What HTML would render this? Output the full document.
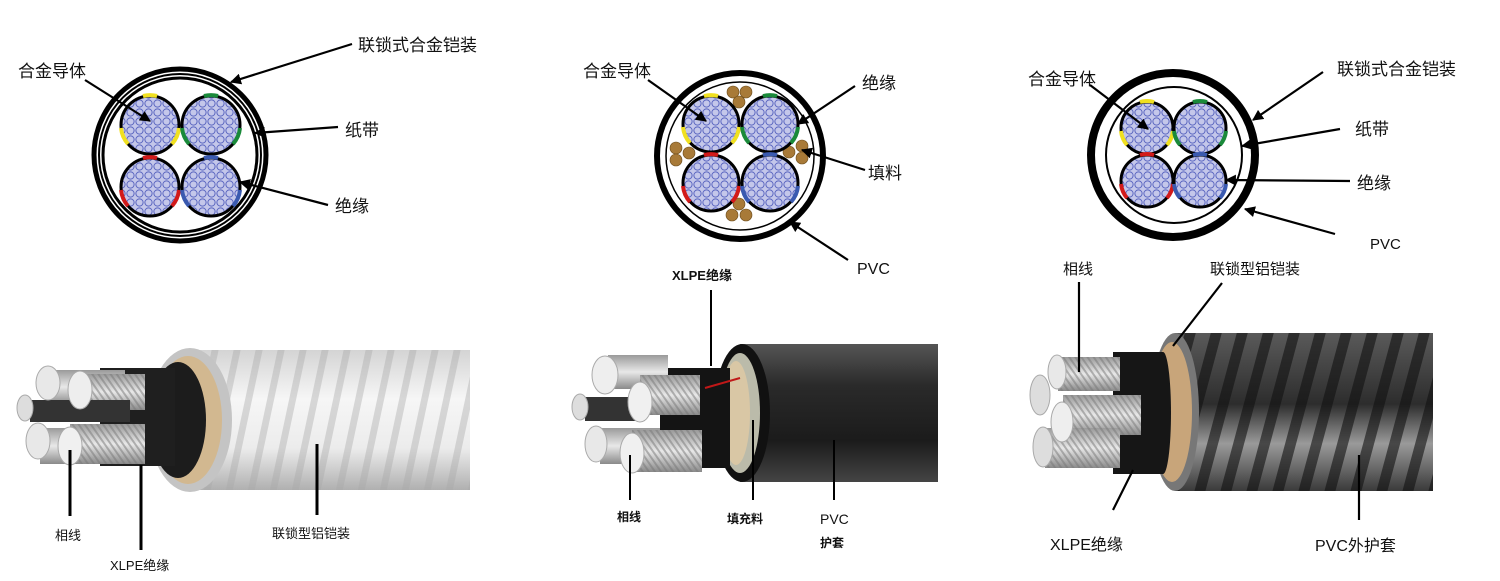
<!DOCTYPE html>
<html><head><meta charset="utf-8"><style>
html,body{margin:0;padding:0;background:#fff;width:1500px;height:581px;overflow:hidden}
svg{display:block}
text{font-family:"Liberation Sans","Noto Sans CJK SC",sans-serif;fill:#111}
</style></head><body>
<svg width="1500" height="581" viewBox="0 0 1500 581" xmlns="http://www.w3.org/2000/svg">
<defs>
<pattern id="mesh" width="9" height="9" patternUnits="userSpaceOnUse">
<rect width="9" height="9" fill="#c4c7ea"/>
<circle cx="4.5" cy="4.5" r="3.6" fill="none" stroke="#5a66c0" stroke-width="1"/>
</pattern>
<marker id="ah" viewBox="0 0 10 10" refX="9" refY="5" markerWidth="5" markerHeight="5" orient="auto"><path d="M0,0L10,5L0,10z" fill="#000"/></marker>
<linearGradient id="alu" x1="0" y1="0" x2="0" y2="1">
<stop offset="0" stop-color="#d4d4d4"/><stop offset="0.35" stop-color="#f6f6f6"/><stop offset="0.7" stop-color="#ececec"/><stop offset="1" stop-color="#b0b0b0"/></linearGradient>
<linearGradient id="blk" x1="0" y1="0" x2="0" y2="1">
<stop offset="0" stop-color="#555"/><stop offset="0.3" stop-color="#2a2a2a"/><stop offset="0.7" stop-color="#1b1b1b"/><stop offset="1" stop-color="#444"/></linearGradient>
<linearGradient id="drk" x1="0" y1="0" x2="0" y2="1">
<stop offset="0" stop-color="#5a5a5a"/><stop offset="0.45" stop-color="#2d2d2d"/><stop offset="0.7" stop-color="#9a9a9a"/><stop offset="1" stop-color="#3a3a3a"/></linearGradient>
<linearGradient id="wire" x1="0" y1="0" x2="0" y2="1">
<stop offset="0" stop-color="#9a9a9a"/><stop offset="0.5" stop-color="#e8e8e8"/><stop offset="1" stop-color="#8a8a8a"/></linearGradient>
<pattern id="strand" width="5" height="5" patternUnits="userSpaceOnUse" patternTransform="rotate(-35)">
<rect width="2" height="5" fill="#777" opacity="0.5"/></pattern>
<pattern id="ribs" width="22" height="10" patternUnits="userSpaceOnUse" patternTransform="skewX(-12)">
<rect x="0" width="7" height="10" fill="#a8a8a8" opacity="0.4"/></pattern>
<pattern id="ribs3" width="26" height="10" patternUnits="userSpaceOnUse" patternTransform="skewX(-15)">
<rect x="0" width="11" height="10" fill="#111" opacity="0.6"/></pattern>
</defs>

<!-- ===== Diagram 1 ===== -->
<circle cx="180" cy="155" r="86" fill="none" stroke="#000" stroke-width="5"/>
<circle cx="180" cy="155" r="81" fill="none" stroke="#000" stroke-width="2"/>
<circle cx="180" cy="155" r="77" fill="none" stroke="#000" stroke-width="3"/>
<g stroke="#000" stroke-width="3">
<circle cx="150" cy="125" r="29" fill="url(#mesh)"/>
<circle cx="211" cy="125" r="29" fill="url(#mesh)"/>
<circle cx="150" cy="187" r="29" fill="url(#mesh)"/>
<circle cx="211" cy="187" r="29" fill="url(#mesh)"/>
</g>
<g fill="none" stroke-width="4">
<path d="M143,96 A29,29 0 0 1 157,96" stroke="#f0e020"/><path d="M121,128 A29,29 0 0 0 128,144 M172,144 A29,29 0 0 0 179,128" stroke="#f0e020"/>
<path d="M204,96 A29,29 0 0 1 218,96" stroke="#1a8a3a"/><path d="M182,128 A29,29 0 0 0 189,144 M233,144 A29,29 0 0 0 240,128" stroke="#1a8a3a"/>
<path d="M143,158 A29,29 0 0 1 157,158" stroke="#d21a1a"/><path d="M121,190 A29,29 0 0 0 128,206 M172,206 A29,29 0 0 0 179,190" stroke="#d21a1a"/>
<path d="M204,158 A29,29 0 0 1 218,158" stroke="#3a5ab0"/><path d="M182,190 A29,29 0 0 0 189,206 M233,206 A29,29 0 0 0 240,190" stroke="#3a5ab0"/>
</g>
<g stroke="#000" stroke-width="2.2" marker-end="url(#ah)" fill="none">
<line x1="85" y1="80" x2="150" y2="121"/>
<line x1="352" y1="44" x2="231" y2="82"/>
<line x1="338" y1="127" x2="255" y2="133"/>
<line x1="328" y1="205" x2="240" y2="182"/>
</g>
<text x="18" y="77" font-size="17">合金导体</text>
<text x="358" y="51" font-size="17">联锁式合金铠装</text>
<text x="345" y="136" font-size="17">纸带</text>
<text x="335" y="212" font-size="17">绝缘</text>

<!-- ===== Diagram 2 ===== -->
<circle cx="740" cy="156" r="83" fill="none" stroke="#000" stroke-width="6"/>
<circle cx="740" cy="156" r="74" fill="none" stroke="#000" stroke-width="1.5"/>
<g fill="#a87a38" stroke="#6a4a1a" stroke-width="0.6">
<circle cx="733" cy="92" r="6"/><circle cx="746" cy="92" r="6"/><circle cx="739" cy="102" r="6"/>
<circle cx="676" cy="148" r="6"/><circle cx="689" cy="153" r="6"/><circle cx="676" cy="160" r="6"/>
<circle cx="789" cy="152" r="6"/><circle cx="802" cy="146" r="6"/><circle cx="802" cy="158" r="6"/>
<circle cx="739" cy="204" r="6"/><circle cx="732" cy="215" r="6"/><circle cx="746" cy="215" r="6"/>
</g>
<g stroke="#000" stroke-width="3">
<circle cx="711" cy="124" r="28" fill="url(#mesh)"/>
<circle cx="770" cy="124" r="28" fill="url(#mesh)"/>
<circle cx="711" cy="183" r="28" fill="url(#mesh)"/>
<circle cx="770" cy="183" r="28" fill="url(#mesh)"/>
</g>
<g fill="none" stroke-width="4">
<path d="M704,96 A28,28 0 0 1 718,96" stroke="#f0e020"/><path d="M683,127 A28,28 0 0 0 690,143 M732,143 A28,28 0 0 0 739,127" stroke="#f0e020"/>
<path d="M763,96 A28,28 0 0 1 777,96" stroke="#1a8a3a"/><path d="M742,127 A28,28 0 0 0 749,143 M791,143 A28,28 0 0 0 798,127" stroke="#1a8a3a"/>
<path d="M704,155 A28,28 0 0 1 718,155" stroke="#d21a1a"/><path d="M683,186 A28,28 0 0 0 690,202 M732,202 A28,28 0 0 0 739,186" stroke="#d21a1a"/>
<path d="M763,155 A28,28 0 0 1 777,155" stroke="#3a5ab0"/><path d="M742,186 A28,28 0 0 0 749,202 M791,202 A28,28 0 0 0 798,186" stroke="#3a5ab0"/>
</g>
<g stroke="#000" stroke-width="2.2" marker-end="url(#ah)" fill="none">
<line x1="648" y1="80" x2="706" y2="121"/>
<line x1="855" y1="86" x2="798" y2="124"/>
<line x1="865" y1="170" x2="802" y2="150"/>
<line x1="848" y1="260" x2="790" y2="222"/>
</g>
<text x="583" y="77" font-size="17">合金导体</text>
<text x="862" y="89" font-size="17">绝缘</text>
<text x="868" y="179" font-size="17">填料</text>
<text x="857" y="274" font-size="16">PVC</text>
<text x="672" y="280" font-size="13" font-weight="bold">XLPE绝缘</text>

<!-- ===== Diagram 3 ===== -->
<circle cx="1173" cy="155" r="82" fill="none" stroke="#000" stroke-width="8"/>
<circle cx="1174" cy="155" r="68" fill="none" stroke="#000" stroke-width="2"/>
<g stroke="#000" stroke-width="3">
<circle cx="1147" cy="128" r="26" fill="url(#mesh)"/>
<circle cx="1200" cy="128" r="26" fill="url(#mesh)"/>
<circle cx="1147" cy="181" r="26" fill="url(#mesh)"/>
<circle cx="1200" cy="181" r="26" fill="url(#mesh)"/>
</g>
<g fill="none" stroke-width="4">
<path d="M1140,102 A26,26 0 0 1 1154,102" stroke="#f0e020"/><path d="M1121,131 A26,26 0 0 0 1127,145 M1167,145 A26,26 0 0 0 1173,131" stroke="#f0e020"/>
<path d="M1193,102 A26,26 0 0 1 1207,102" stroke="#1a8a3a"/><path d="M1174,131 A26,26 0 0 0 1180,145 M1220,145 A26,26 0 0 0 1226,131" stroke="#1a8a3a"/>
<path d="M1140,155 A26,26 0 0 1 1154,155" stroke="#d21a1a"/><path d="M1121,184 A26,26 0 0 0 1127,198 M1167,198 A26,26 0 0 0 1173,184" stroke="#d21a1a"/>
<path d="M1193,155 A26,26 0 0 1 1207,155" stroke="#3a5ab0"/><path d="M1174,184 A26,26 0 0 0 1180,198 M1220,198 A26,26 0 0 0 1226,184" stroke="#3a5ab0"/>
</g>
<g stroke="#000" stroke-width="2.2" marker-end="url(#ah)" fill="none">
<line x1="1090" y1="85" x2="1148" y2="129"/>
<line x1="1323" y1="72" x2="1253" y2="120"/>
<line x1="1340" y1="129" x2="1242" y2="146"/>
<line x1="1350" y1="181" x2="1226" y2="180"/>
<line x1="1335" y1="234" x2="1245" y2="209"/>
</g>
<text x="1028" y="85" font-size="17">合金导体</text>
<text x="1337" y="75" font-size="17">联锁式合金铠装</text>
<text x="1355" y="135" font-size="17">纸带</text>
<text x="1357" y="189" font-size="17">绝缘</text>
<text x="1370" y="249" font-size="15">PVC</text>
<text x="1063" y="274" font-size="15">相线</text>
<text x="1210" y="274" font-size="15">联锁型铝铠装</text>

<!-- ===== Cable photo 1 ===== -->
<rect x="190" y="350" width="280" height="140" fill="url(#alu)"/>
<rect x="190" y="350" width="280" height="140" fill="url(#ribs)"/>
<ellipse cx="190" cy="420" rx="42" ry="72" fill="#c4c4c4"/>
<ellipse cx="188" cy="420" rx="34" ry="64" fill="#d2b890"/>
<ellipse cx="178" cy="420" rx="28" ry="58" fill="#1c1c1c"/>
<rect x="100" y="368" width="75" height="98" fill="#1f1f1f"/>
<g>
<rect x="45" y="370" width="80" height="34" fill="url(#wire)"/>
<rect x="80" y="374" width="65" height="36" fill="url(#wire)"/>
<rect x="80" y="374" width="65" height="36" fill="url(#strand)"/>
<rect x="30" y="400" width="100" height="22" fill="#333"/>
<rect x="40" y="428" width="80" height="36" fill="url(#wire)"/>
<rect x="70" y="424" width="75" height="40" fill="url(#wire)"/>
<rect x="70" y="424" width="75" height="40" fill="url(#strand)"/>
<ellipse cx="48" cy="383" rx="12" ry="17" fill="#e8e8e8" stroke="#aaa"/>
<ellipse cx="80" cy="390" rx="12" ry="19" fill="#eee" stroke="#aaa"/>
<ellipse cx="25" cy="408" rx="8" ry="13" fill="#ddd" stroke="#aaa"/>
<ellipse cx="38" cy="441" rx="12" ry="18" fill="#e8e8e8" stroke="#aaa"/>
<ellipse cx="70" cy="446" rx="12" ry="19" fill="#f0f0f0" stroke="#aaa"/>
</g>
<g stroke="#000" stroke-width="3"><line x1="70" y1="450" x2="70" y2="516"/><line x1="141" y1="465" x2="141" y2="550"/><line x1="317" y1="444" x2="317" y2="515"/></g>
<text x="55" y="540" font-size="13">相线</text>
<text x="110" y="570" font-size="13">XLPE绝缘</text>
<text x="272" y="538" font-size="13">联锁型铝铠装</text>

<!-- ===== Cable photo 2 ===== -->
<rect x="740" y="344" width="198" height="138" fill="url(#blk)"/>
<ellipse cx="742" cy="413" rx="28" ry="69" fill="#111"/>
<ellipse cx="740" cy="413" rx="20" ry="60" fill="#bba"/>
<ellipse cx="736" cy="413" rx="14" ry="52" fill="#d9c7a5"/>
<rect x="660" y="368" width="70" height="100" fill="#141414"/>
<line x1="705" y1="388" x2="740" y2="378" stroke="#c01818" stroke-width="2"/>
<g>
<rect x="608" y="355" width="60" height="34" fill="url(#wire)"/>
<rect x="640" y="375" width="60" height="40" fill="url(#wire)"/>
<rect x="640" y="375" width="60" height="40" fill="url(#strand)"/>
<rect x="585" y="397" width="60" height="24" fill="#333"/>
<rect x="600" y="428" width="60" height="36" fill="url(#wire)"/>
<rect x="632" y="430" width="70" height="42" fill="url(#wire)"/>
<rect x="632" y="430" width="70" height="42" fill="url(#strand)"/>
<ellipse cx="605" cy="375" rx="13" ry="19" fill="#eee" stroke="#aaa"/>
<ellipse cx="640" cy="402" rx="12" ry="20" fill="#f0f0f0" stroke="#aaa"/>
<ellipse cx="580" cy="407" rx="8" ry="13" fill="#ddd" stroke="#aaa"/>
<ellipse cx="596" cy="444" rx="11" ry="18" fill="#e8e8e8" stroke="#aaa"/>
<ellipse cx="632" cy="453" rx="12" ry="20" fill="#f0f0f0" stroke="#aaa"/>
</g>
<g stroke="#000" stroke-width="2"><line x1="711" y1="290" x2="711" y2="366"/><line x1="630" y1="455" x2="630" y2="500"/><line x1="753" y1="420" x2="753" y2="500"/><line x1="834" y1="440" x2="834" y2="500"/></g>
<text x="617" y="521" font-size="12" font-weight="bold">相线</text>
<text x="727" y="523" font-size="12" font-weight="bold">填充料</text>
<text x="820" y="524" font-size="14">PVC</text>
<text x="820" y="547" font-size="12" font-weight="bold">护套</text>

<!-- ===== Cable photo 3 ===== -->
<rect x="1175" y="333" width="258" height="158" fill="url(#drk)"/>
<rect x="1175" y="333" width="258" height="158" fill="url(#ribs3)"/>
<ellipse cx="1175" cy="412" rx="24" ry="79" fill="#777"/>
<ellipse cx="1172" cy="412" rx="20" ry="70" fill="#c8a57a"/>
<rect x="1113" y="352" width="50" height="122" fill="#161616"/>
<ellipse cx="1163" cy="413" rx="8" ry="61" fill="#161616"/>
<g>
<rect x="1058" y="357" width="62" height="34" fill="url(#wire)"/>
<rect x="1058" y="357" width="62" height="34" fill="url(#strand)"/>
<rect x="1063" y="395" width="78" height="40" fill="url(#wire)"/>
<rect x="1063" y="395" width="78" height="40" fill="url(#strand)"/>
<rect x="1045" y="428" width="75" height="40" fill="url(#wire)"/>
<rect x="1045" y="428" width="75" height="40" fill="url(#strand)"/>
<ellipse cx="1057" cy="372" rx="9" ry="17" fill="#e8e8e8" stroke="#aaa"/>
<ellipse cx="1040" cy="395" rx="10" ry="20" fill="#ddd" stroke="#aaa"/>
<ellipse cx="1062" cy="422" rx="11" ry="20" fill="#eee" stroke="#aaa"/>
<ellipse cx="1043" cy="447" rx="10" ry="20" fill="#ddd" stroke="#aaa"/>
</g>
<g stroke="#000" stroke-width="2.2"><line x1="1079" y1="282" x2="1079" y2="372"/><line x1="1222" y1="283" x2="1173" y2="346"/><line x1="1133" y1="470" x2="1113" y2="510"/><line x1="1359" y1="455" x2="1359" y2="520"/></g>
<text x="1050" y="550" font-size="16">XLPE绝缘</text>
<text x="1315" y="551" font-size="16">PVC外护套</text>
</svg>
</body></html>
